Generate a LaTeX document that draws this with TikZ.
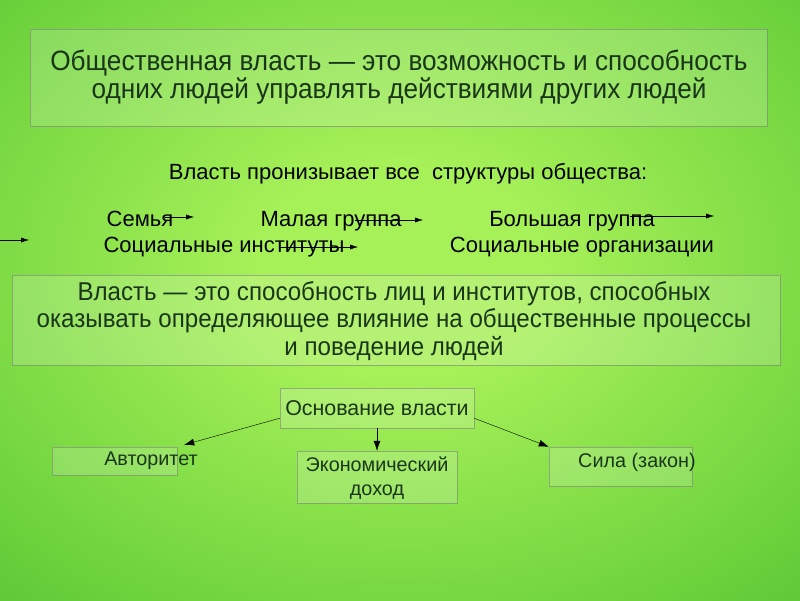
\documentclass[tikz,border=0pt]{standalone}
\usepackage{fontspec}
\usepackage{tikz}
\usetikzlibrary{arrows.meta}
\setmainfont{Liberation Sans}
\newfontfamily\narrowfont[FakeStretch=0.935]{Liberation Sans}
\definecolor{glowa}{RGB}{166,240,88}
\definecolor{glowb}{RGB}{108,210,60}
\definecolor{glowc}{RGB}{60,176,42}
\definecolor{glowd}{RGB}{38,152,32}
\definecolor{darkgreentext}{RGB}{26,54,26}
\pgfdeclareradialshading{bgglow}{\pgfpoint{0bp}{0bp}}{color(0bp)=(glowa); color(8bp)=(glowa); color(28bp)=(glowb); color(45bp)=(glowc); color(70bp)=(glowd)}

\begin{document}
\begin{tikzpicture}[x=1pt,y=-1pt,
    panel/.style={draw=black!50,draw opacity=0.6,fill=white,fill opacity=0.17,text opacity=1,inner sep=0pt},
    bigtext/.style={text=darkgreentext,align=center,font=\narrowfont\fontsize{28}{28.5}\selectfont},
    rowtext/.style={anchor=base,font=\fontsize{22}{26}\selectfont},
    smalltext/.style={text=darkgreentext,align=center,font=\fontsize{19.8}{24}\selectfont},
    rowarrow/.style={-{Latex[length=8pt,width=5pt]},thin},
    basearrow/.style={-{Latex[length=10pt,width=7pt]},thin}]
            % Background
            \useasboundingbox (0,0) rectangle (800,600);
            \clip (0,0) rectangle (800,600);
            \shade[shading=bgglow] (-60,-70) rectangle (860,610);

            % Definition boxes
            \node[panel,minimum width=737pt,minimum height=97pt] (defbox) at (398.5,77.5) {};
            \node[bigtext] (deftext) at (399,77) {Общественная власть — это возможность и способность\\одних людей управлять действиями других людей};
            \node[panel,minimum width=768pt,minimum height=90pt] (powbox) at (396,320) {};
            \node[bigtext,font=\narrowfont\fontsize{25.8}{27.5}\selectfont] (powtext) at (394,321) {Власть — это способность лиц и институтов, способных\\оказывать определяющее влияние на общественные процессы\\и поведение людей};

            % Structures of society
            \node[rowtext] (head) at (408,179) {Власть пронизывает все\ \ структуры общества:};
            \node[rowtext] (family) at (140,226) {Семья};
            \node[rowtext] (smallgr) at (331,226) {Малая группа};
            \node[rowtext] (biggr) at (572,226) {Большая группа};
            \node[rowtext] (instit) at (224,252) {Социальные институты};
            \node[rowtext] (organ) at (582,252) {Социальные организации};

            % Row arrows
            \coordinate (fa) at (165,217); \coordinate (fb) at (194,217);
            \coordinate (sa) at (355,220); \coordinate (sb) at (423,220);
            \coordinate (ba) at (630,216); \coordinate (bb) at (714,216);
            \coordinate (la) at (0,240);   \coordinate (lb) at (29,240);
            \coordinate (ia) at (280,247); \coordinate (ib) at (358,247);
            \draw[rowarrow] (fa) -- (fb);
            \draw[rowarrow] (sa) -- (sb);
            \draw[rowarrow] (ba) -- (bb);
            \draw[rowarrow] (la) -- (lb);
            \draw[rowarrow] (ia) -- (ib);

            % Base of power
            \node[panel,minimum width=194pt,minimum height=40pt] (base) at (377,408) {};
            \node[smalltext,font=\fontsize{21.4}{24}\selectfont] (basetext) at (base.center) {Основание власти};
            \node[panel,minimum width=125pt,minimum height=28pt] (auth) at (114.5,461) {};
            \node[smalltext] (authtext) at (151,461) {Авторитет};
            \node[panel,minimum width=160pt,minimum height=52pt] (econ) at (377,477) {};
            \node[smalltext,font=\fontsize{19.8}{24}\selectfont] (econtext) at (377,478) {Экономический\\доход};
            \node[panel,minimum width=143pt,minimum height=39pt] (force) at (620.5,466.5) {};
            \node[smalltext] (forcetext) at (637,462) {Сила (закон)};

            % Arrows
            \draw[basearrow] (base.186) -- ([xshift=7pt,yshift=2pt]auth.north east);
            \draw[basearrow] (base.south) -- (econ.north);
            \draw[basearrow] (base.354) -- (force.north west);
        \end{tikzpicture}
\end{document}
